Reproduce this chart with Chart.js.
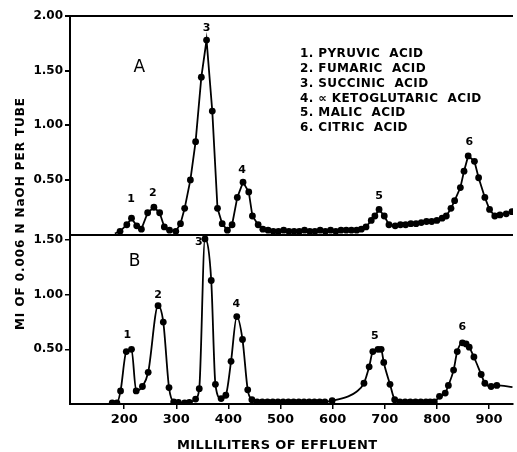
<!DOCTYPE html>
<html>
<head>
<meta charset="utf-8">
<script src="https://cdn.jsdelivr.net/npm/chart.js@4"></script>
<style>
html,body{margin:0;padding:0;background:#fff}
#c{display:block}
</style>
</head>
<body>
<canvas id="c" width="517" height="452"></canvas>
<script>
// tick labels
const xTicks=[200,300,400,500,600,700,800,900];
const yTicksA=[0,0.5,1,1.5,2];
const yTicksB=[0.5,1,1.5];

// panel A : ml of effluent / ml NaOH per tube
const mlA=[182,192,205,214,224,233,245,257,268,277,287,299,308,316,327,337,348,358,369,379,
388,398,407,417,428,439,446,457,466,476,486,496,506,516,526,536,546,556,566,576,
586,596,606,616,626,636,646,655,664,674,681,689,699,708,720,730,740,750,760,770,
780,790,800,810,818,827,834,845,852,860,872,880,892,901,911,921,933,944];
const valA=[0.01,0.03,0.09,0.15,0.08,0.05,0.20,0.25,0.20,0.07,0.04,0.03,0.10,0.24,0.50,0.85,1.44,1.78,1.13,0.24,
0.10,0.04,0.09,0.34,0.48,0.39,0.17,0.09,0.05,0.04,0.03,0.03,0.04,0.03,0.03,0.03,0.04,0.03,0.03,0.04,
0.03,0.04,0.03,0.04,0.04,0.04,0.04,0.05,0.07,0.13,0.17,0.23,0.17,0.09,0.08,0.09,0.09,0.10,0.10,0.11,
0.12,0.12,0.13,0.15,0.17,0.24,0.31,0.43,0.58,0.72,0.67,0.52,0.34,0.23,0.17,0.18,0.19,0.21];

// panel B
const mlB=[177,186,193,204,214,223,235,246,265,275,286,295,304,316,325,337,344,355,367,375,
386,395,405,416,427,437,445,455,465,475,485,495,505,515,525,535,545,555,565,575,
585,599,630,645,660,670,677,687,693,698,710,719,729,739,749,759,769,779,787,795,
805,816,822,832,839,849,856,862,871,885,892,904,915,945];
const valB=[0.01,0.01,0.12,0.48,0.50,0.12,0.16,0.29,0.90,0.75,0.15,0.02,0.015,0.01,0.015,0.045,0.14,1.51,1.13,0.18,
0.05,0.08,0.39,0.80,0.59,0.13,0.04,0.02,0.02,0.02,0.02,0.02,0.02,0.02,0.02,0.02,0.02,0.02,0.02,0.02,
0.02,0.03,0.07,0.11,0.19,0.34,0.48,0.50,0.50,0.38,0.18,0.04,0.02,0.02,0.02,0.02,0.02,0.02,0.02,0.02,
0.07,0.10,0.17,0.31,0.48,0.56,0.55,0.52,0.43,0.27,0.19,0.16,0.17,0.155];

// points drawn as curve only (no dot)
const curveOnlyA=[182];
const curveOnlyB=[630,645,945];

const acids=["1. PYRUVIC  ACID","2. FUMARIC  ACID","3. SUCCINIC  ACID","4. \u221D KETOGLUTARIC  ACID","5. MALIC  ACID","6. CITRIC  ACID"];
const peakNames=["1","2","3","4","5","6"];
const peakPosA=[[213,0.32],[255,0.38],[358,1.89],[426,0.59],[689,0.35],[862,0.85]];
const peakPosB=[[206,0.63],[265,1.00],[343,1.48],[415,0.91],[681,0.62],[849,0.70]];

const FONT='"DejaVu Sans", sans-serif';

function spacedText(ctx,text,cx,cy,width){
  ctx.letterSpacing='0px';
  const w=ctx.measureText(text).width;
  const ls=(width-w)/(text.length-1);
  ctx.letterSpacing=ls+'px';
  ctx.fillText(text,cx+ls/2,cy);
  ctx.letterSpacing='0px';
}

const texts={
  id:'texts',
  afterDraw(chart){
    const {ctx}=chart;
    const {x,yA,yB}=chart.scales;
    ctx.save();
    ctx.fillStyle='#000';
    ctx.textAlign='center';
    ctx.textBaseline='middle';
    ctx.font='bold 11px '+FONT;
    peakPosA.forEach((p,i)=>ctx.fillText(peakNames[i],x.getPixelForValue(p[0]),yA.getPixelForValue(p[1])));
    peakPosB.forEach((p,i)=>ctx.fillText(peakNames[i],x.getPixelForValue(p[0]),yB.getPixelForValue(p[1])));
    ctx.font='17px '+FONT;
    ctx.fillText('A',x.getPixelForValue(229),yA.getPixelForValue(1.53));
    ctx.fillText('B',x.getPixelForValue(220),yB.getPixelForValue(1.30));
    // legend
    ctx.textAlign='left';
    ctx.font='bold 12px '+FONT;
    ctx.letterSpacing='0.4px';
    acids.forEach((a,i)=>ctx.fillText(a,300,54+i*14.8));
    ctx.letterSpacing='0px';
    // axis titles
    ctx.textAlign='center';
    ctx.font='bold 13px '+FONT;
    spacedText(ctx,'MILLILITERS OF EFFLUENT',277,446,200);
    ctx.translate(21,214);
    ctx.rotate(-Math.PI/2);
    ctx.font='bold 12px '+FONT;
    spacedText(ctx,'MI OF 0.006 N NaOH PER TUBE',0,0,232);
    ctx.restore();
  }
};

const tickFont={family:FONT,weight:'bold',size:12};

new Chart(document.getElementById('c'),{
  type:'line',
  data:{
    datasets:[
      {
        yAxisID:'yA',
        data:mlA.map((v,i)=>({x:v,y:valA[i]})),
        borderColor:'#000',
        backgroundColor:'#000',
        borderWidth:1.8,
        pointRadius:c=>curveOnlyA.includes(mlA[c.dataIndex])?0:3.4,
        pointBorderWidth:0,
        tension:0
      },
      {
        yAxisID:'yB',
        data:mlB.map((v,i)=>({x:v,y:valB[i]})),
        borderColor:'#000',
        backgroundColor:'#000',
        borderWidth:1.8,
        pointRadius:c=>curveOnlyB.includes(mlB[c.dataIndex])?0:3.4,
        pointBorderWidth:0,
        cubicInterpolationMode:'monotone'
      }
    ]
  },
  options:{
    responsive:false,
    animation:false,
    layout:{padding:{top:16,left:0,right:0,bottom:0}},
    plugins:{legend:{display:false},tooltip:{enabled:false}},
    scales:{
      x:{
        type:'linear',min:96,max:946,
        afterBuildTicks:s=>{s.ticks=xTicks.map(v=>({value:v}));},
        afterFit:s=>{s.height=48;},
        grid:{drawOnChartArea:false,color:'#000',tickLength:5,lineWidth:1.5},
        border:{color:'#000',width:2},
        ticks:{color:'#000',font:{family:FONT,weight:'bold',size:13},padding:3,maxRotation:0,autoSkip:false,callback:v=>String(v)}
      },
      yB:{
        type:'linear',position:'left',stack:'p',stackWeight:1.55,min:0,max:1.55,
        afterBuildTicks:s=>{s.ticks=yTicksB.map(v=>({value:v}));},
        afterFit:s=>{s.width=70;},
        grid:{drawOnChartArea:false,color:'#000',tickLength:5,lineWidth:1.5},
        border:{color:'#000',width:2},
        ticks:{color:'#000',font:tickFont,padding:2,callback:v=>v.toFixed(2)}
      },
      yA:{
        type:'linear',position:'left',stack:'p',stackWeight:2,min:0,max:2,
        afterBuildTicks:s=>{s.ticks=yTicksA.map(v=>({value:v}));},
        afterFit:s=>{s.width=70;},
        grid:{
          color:c=>(c.tick&&(c.tick.value===0||c.tick.value===2))?'#000':'rgba(0,0,0,0)',
          tickColor:c=>(c.tick&&c.tick.value===0)?'rgba(0,0,0,0)':'#000',
          tickLength:5,lineWidth:2
        },
        border:{color:'#000',width:2},
        ticks:{color:'#000',font:tickFont,padding:2,callback:v=>v===0?'':v.toFixed(2)}
      }
    }
  },
  plugins:[texts]
});
</script>
</body>
</html>
